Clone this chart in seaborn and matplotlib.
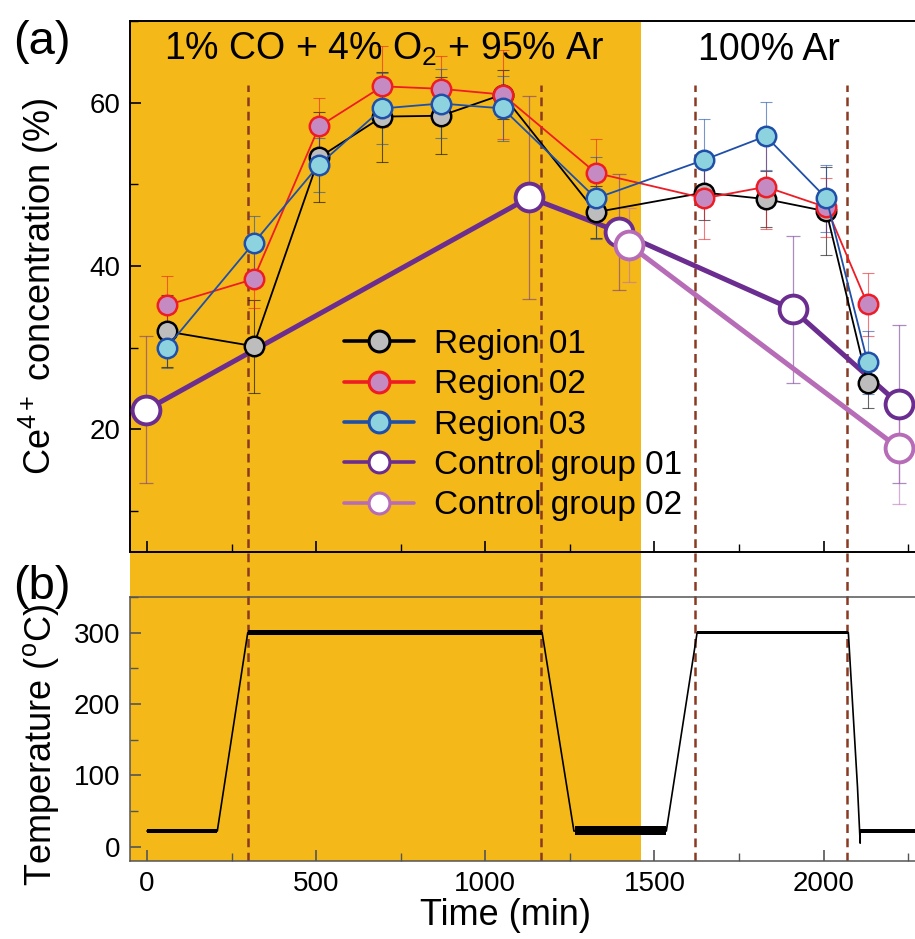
import matplotlib
matplotlib.use('Agg')
import matplotlib.pyplot as plt
import seaborn as sns
from matplotlib.lines import Line2D
from matplotlib.ticker import MultipleLocator

sns.set_style('ticks')
plt.rcParams['font.family'] = ['Liberation Sans', 'DejaVu Sans']
plt.rcParams['mathtext.fontset'] = 'custom'
plt.rcParams['mathtext.rm'] = 'Liberation Sans'
plt.rcParams['mathtext.it'] = 'Liberation Sans:italic'
for key in ('text.color', 'axes.labelcolor', 'xtick.color', 'ytick.color'):
    plt.rcParams[key] = 'black'

# Ce4+ concentration data (panel a)
t_reg = [58, 315, 509, 696, 869, 1051, 1327, 1647, 1829, 2008, 2130]
reg01 = [32.0, 30.2, 53.3, 58.3, 58.4, 61.0, 46.6, 49.0, 48.2, 46.7, 25.7]
reg01_err = [4.4, 5.7, 5.5, 5.5, 4.7, 3.0, 3.2, 3.4, 3.4, 5.4, 3.1]
reg02 = [35.2, 38.4, 57.1, 62.0, 61.7, 61.0, 51.4, 48.3, 49.7, 47.2, 35.3]
reg02_err = [3.6, 3.5, 3.5, 5.0, 4.0, 5.5, 4.2, 5.0, 5.2, 3.6, 3.8]
reg03 = [30.0, 42.8, 52.4, 59.3, 59.9, 59.3, 48.3, 53.0, 55.9, 48.3, 28.2]
reg03_err = [2.5, 3.3, 3.3, 4.3, 4.2, 4.0, 5.0, 5.0, 4.2, 4.1, 3.9]

t_cg01 = [-2, 1130, 1394, 1908, 2223]
cg01 = [22.4, 48.4, 44.2, 34.7, 23.1]
cg01_err = [9.0, 12.4, 7.1, 9.0, 9.7]
t_cg02 = [1425, 2223]
cg02 = [42.6, 17.7]
cg02_err = [4.5, 6.8]

# temperature programme (panel b)
t_temp = [0, 208, 298, 1168, 1262, 1535, 1626, 2073, 2100, 2108, 2108, 2270]
temp = [22, 22, 300, 300, 22, 22, 300, 300, 84, 5, 22, 22]
# noisy stretches of the thermocouple trace
band_t0 = [0, 298, 1265, 1626, 2108]
band_t1 = [208, 1168, 1535, 2073, 2270]
band_lo = [19, 296.5, 16, 297.5, 19]
band_hi = [25, 304, 29, 303, 25]

gas_switch = 1460
dash_times = [300, 1165, 1620, 2070]

orange = '#F4B919'
dash_col = '#8B3A22'
series = [
    ('Region 01', t_reg, reg01, reg01_err, 'black', '#BDBDBD'),
    ('Region 02', t_reg, reg02, reg02_err, '#EE1C25', '#C68AC2'),
    ('Region 03', t_reg, reg03, reg03_err, '#1F4FA8', '#8DD3DF'),
]
controls = [
    ('Control group 01', t_cg01, cg01, cg01_err, '#6B2D8F'),
    ('Control group 02', t_cg02, cg02, cg02_err, '#B66CB6'),
]

W, H = 915, 939
fig = plt.figure(figsize=(W / 100, H / 100), dpi=100)
xlim = (-50, 2270)

# background axes holding the gas shading and the dashed markers
ax_bg = fig.add_axes([130 / W, 1 - 861 / H, 1 - 130 / W, (861 - 21) / H])
ax_bg.set_xlim(xlim)
ax_bg.set_ylim(0, 1)
ax_bg.axvspan(xlim[0], gas_switch, color=orange, lw=0)
for tx in dash_times:
    ax_bg.axvline(tx, ymin=0, ymax=(861 - 85) / (861 - 21), color=dash_col,
                  lw=1.8, ls=(0, (3.5, 2.2)))
ax_bg.axis('off')

ax1 = fig.add_axes([130 / W, 1 - 552 / H, 1 - 130 / W, (552 - 21) / H])
ax2 = fig.add_axes([130 / W, 1 - 861 / H, 1 - 130 / W, (861 - 597) / H])
for ax in (ax1, ax2):
    ax.set_facecolor('none')
    ax.set_xlim(xlim)
    ax.spines['right'].set_visible(False)
    ax.xaxis.set_major_locator(MultipleLocator(500))
    ax.xaxis.set_minor_locator(MultipleLocator(250))
    ax.tick_params(which='both', direction='in', labelsize=20, pad=7)
    ax.tick_params(which='major', length=8, width=1.2)
    ax.tick_params(which='minor', length=6, width=1.0)

# panel (a)
for name, tx, y, err, lc, fc in series:
    ax1.errorbar(tx, y, yerr=err, fmt='none', ecolor=lc, elinewidth=0.8,
                 capsize=4, capthick=0.8, alpha=0.6, zorder=2)
for name, tx, y, err, lc in controls:
    ax1.errorbar(tx, y, yerr=err, fmt='none', ecolor=lc, elinewidth=0.9,
                 capsize=5, capthick=0.9, alpha=0.55, zorder=2)
for name, tx, y, err, lc in controls:
    sns.lineplot(x=tx, y=y, ax=ax1, color=lc, lw=3.6, marker='o',
                 markersize=20, markerfacecolor='white', markeredgecolor=lc,
                 markeredgewidth=2.8, zorder=3)
for name, tx, y, err, lc, fc in series:
    sns.lineplot(x=tx, y=y, ax=ax1, color=lc, lw=1.3, marker='o',
                 markersize=14, markerfacecolor=fc, markeredgecolor=lc,
                 markeredgewidth=1.8, zorder=4)

ax1.set_ylim(5, 70)
ax1.yaxis.set_major_locator(MultipleLocator(20))
ax1.yaxis.set_minor_locator(MultipleLocator(10))
ax1.yaxis.set_major_formatter(plt.FuncFormatter(lambda v, p: f'{v:.0f}' if v >= 20 else ''))
ax1.tick_params(axis='x', labelbottom=False)
for s in ('left', 'top', 'bottom'):
    ax1.spines[s].set_color('black')
    ax1.spines[s].set_linewidth(1.4)
ax1.set_ylabel('Ce$^{4+}$ concentration (%)', fontsize=26)
ax1.yaxis.set_label_coords(-0.088, 0.5)

ax1.text(702, 66.5, '1% CO + 4% O$_2$ + 95% Ar', fontsize=27, ha='center', va='center')
ax1.text(1839, 66.5, '100% Ar', fontsize=27, ha='center', va='center')

handles = [Line2D([], [], color=lc, lw=2.6, marker='o', markersize=15,
                  markerfacecolor=fc, markeredgecolor=lc, markeredgewidth=2.2)
           for name, tx, y, err, lc, fc in series]
handles += [Line2D([], [], color=lc, lw=2.6, marker='o', markersize=15,
                   markerfacecolor='white', markeredgecolor=lc, markeredgewidth=2.2)
            for name, tx, y, err, lc in controls]
labels = [s[0] for s in series] + [c[0] for c in controls]
ax1.legend(handles, labels, loc='upper left', bbox_to_anchor=(344 / W, 1 - 329 / H),
           bbox_transform=fig.transFigure, frameon=False, fontsize=24,
           borderpad=0, borderaxespad=0, labelspacing=0.28, handlelength=2.1,
           handletextpad=0.6)

# panel (b)
for a, b, lo, hi in zip(band_t0, band_t1, band_lo, band_hi):
    ax2.fill_between([a, b], [lo, lo], [hi, hi], color='black', lw=0, zorder=3)
sns.lineplot(x=t_temp, y=temp, ax=ax2, color='black', lw=1.2, sort=False,
             estimator=None, zorder=3)
ax2.set_ylim(-20, 350)
ax2.yaxis.set_major_locator(MultipleLocator(100))
ax2.yaxis.set_minor_locator(MultipleLocator(50))
for s in ('left', 'top', 'bottom'):
    ax2.spines[s].set_color('#555555')
    ax2.spines[s].set_linewidth(1.1)
ax2.tick_params(which='both', color='#555555')
ax2.set_ylabel('Temperature ($^{\\mathrm{o}}$C)', fontsize=26)
ax2.yaxis.set_label_coords(-0.088, 0.44)
ax2.set_xlabel('Time (min)', fontsize=26)
ax2.xaxis.set_label_coords(0.478, -0.14)

fig.text(42 / W, 1 - 42 / H, '(a)', fontsize=34, ha='center', va='center')
fig.text(42 / W, 1 - 587 / H, '(b)', fontsize=34, ha='center', va='center')

fig.savefig('out.png', dpi=100)
